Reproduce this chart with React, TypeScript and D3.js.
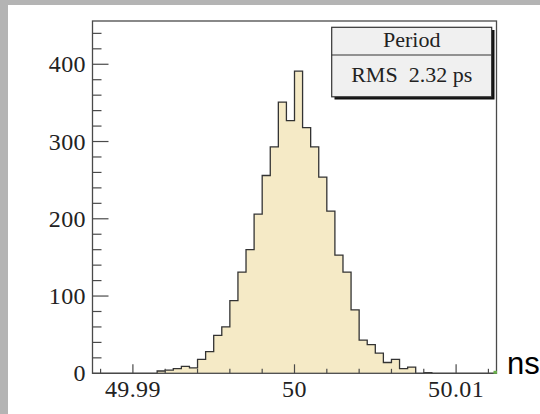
import React from "react";
import * as d3 from "d3";

// Histogram of the measured clock period (ns), 50 bins of 0.5 ps
const binStart = 49.9875;
const binWidth = 0.0005;
const counts = [
  0, 0, 0, 0, 0, 0, 0, 0, 3, 4,
  6, 9, 7, 18, 28, 49, 60, 94, 131, 160,
  206, 256, 293, 351, 327, 391, 318, 293, 254, 210,
  153, 131, 82, 43, 37, 26, 14, 18, 6, 8,
  0, 1, 0, 0, 0, 0, 0, 0, 0, 0,
];
const xMajorTicks = [49.99, 50, 50.01];
const xTickLabels = ["49.99", "50", "50.01"];
const yMajorTicks = [0, 100, 200, 300, 400];
const legendTitle = "Period";
const legendLine = "RMS  2.32 ps";
const unitLabel = "ns";

const W = 540;
const H = 414;
const frame = { left: 92.5, right: 496.5, top: 21, bottom: 373.3 };

export default function App() {
  const x = d3
    .scaleLinear()
    .domain([binStart, binStart + counts.length * binWidth])
    .range([frame.left, frame.right]);
  const y = d3.scaleLinear().domain([0, 456]).range([frame.bottom, frame.top]);

  const pts: [number, number][] = counts.map((c, i) => [binStart + i * binWidth, c]);
  pts.push([binStart + counts.length * binWidth, counts[counts.length - 1]]);

  const area = d3
    .area<[number, number]>()
    .x((d) => x(d[0]))
    .y0(y(0))
    .y1((d) => y(d[1]))
    .curve(d3.curveStepAfter);
  const line = d3
    .line<[number, number]>()
    .x((d) => x(d[0]))
    .y((d) => y(d[1]))
    .curve(d3.curveStepAfter);

  const xMinor = d3.range(0, 13).map((i) => 49.988 + i * 0.002);
  const yMinor = d3.range(20, 456, 20);

  const serif = "'Liberation Serif', 'DejaVu Serif', serif";
  const axisColor = "#4a4a4a";

  return (
    <svg
      width={W}
      height={H}
      style={{ position: "absolute", left: 0, top: 0 }}
      xmlns="http://www.w3.org/2000/svg"
    >
      <rect x={0} y={0} width={W} height={H} fill="#b4b4b4" />
      <rect x={8} y={5} width={W - 8} height={H - 5} fill="#ffffff" />

      {/* histogram */}
      <path d={area(pts) ?? ""} fill="#f5eac6" />
      <path d={line(pts) ?? ""} fill="none" stroke="#333" strokeWidth={1.3} />

      {/* frame */}
      <rect
        x={frame.left}
        y={frame.top}
        width={frame.right - frame.left}
        height={frame.bottom - frame.top}
        fill="none"
        stroke={axisColor}
        strokeWidth={1.3}
      />

      {/* y ticks */}
      {yMinor.map((v) => (
        <line
          key={"ym" + v}
          x1={frame.left}
          x2={frame.left + (v % 100 === 0 ? 16 : 9)}
          y1={y(v)}
          y2={y(v)}
          stroke={axisColor}
          strokeWidth={1.2}
        />
      ))}
      {yMajorTicks.map((v) => (
        <text
          key={"yl" + v}
          x={86}
          y={y(v)}
          textAnchor="end"
          dominantBaseline="central"
          fontFamily={serif}
          fontSize={24}
          letterSpacing={0.4}
          fill="#222"
        >
          {v}
        </text>
      ))}

      {/* x ticks */}
      {xMinor.map((v) => {
        const major = xMajorTicks.some((m) => Math.abs(m - v) < 1e-7);
        return (
          <line
            key={"xm" + v}
            x1={x(v)}
            x2={x(v)}
            y1={frame.bottom}
            y2={frame.bottom - (major ? 9 : 4.5)}
            stroke={axisColor}
            strokeWidth={1.2}
          />
        );
      })}
      {xMajorTicks.map((v, i) => (
        <text
          key={"xl" + v}
          x={x(v)}
          y={397}
          textAnchor="middle"
          fontFamily={serif}
          fontSize={24}
          letterSpacing={0.4}
          fill="#222"
        >
          {xTickLabels[i]}
        </text>
      ))}

      <rect x={frame.right - 3} y={frame.bottom - 2.5} width={3.5} height={3} fill="#6ab04c" />

      {/* legend box */}
      <rect x={334.5} y={30} width={160} height={69.5} fill="#111" />
      <rect x={331.7} y={27.3} width={160} height={69.5} fill="#f0f0f0" stroke="#333" strokeWidth={1.2} />
      <line x1={331.7} x2={491.7} y1={55} y2={55} stroke="#333" strokeWidth={1.2} />
      <text x={411.7} y={47} textAnchor="middle" fontFamily={serif} fontSize={22} fill="#222">
        {legendTitle}
      </text>
      <text
        x={411.7}
        y={81.5}
        textAnchor="middle"
        fontFamily={serif}
        fontSize={22}
        fill="#222"
        style={{ whiteSpace: "pre" }}
      >
        {legendLine}
      </text>

      <text x={507} y={373.5} fontFamily="'Liberation Sans', Arial, sans-serif" fontSize={31} fill="#000">
        {unitLabel}
      </text>
    </svg>
  );
}
